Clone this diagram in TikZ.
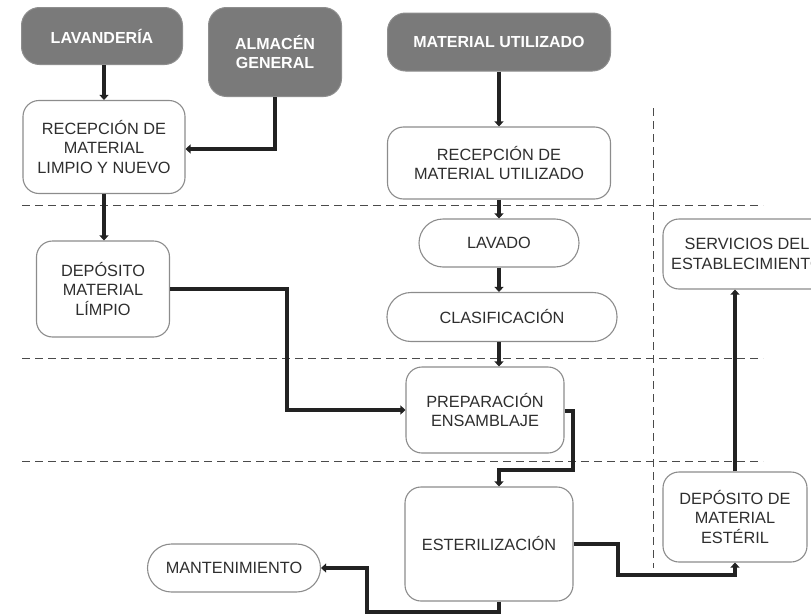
\documentclass[tikz,border=0pt]{standalone}
\usepackage{fontspec}
\setmainfont{Liberation Sans}
\usetikzlibrary{arrows.meta,calc}
\definecolor{darkbox}{HTML}{7A7A7A}
\definecolor{boxline}{HTML}{8C8C8C}
\definecolor{flow}{HTML}{222222}
\definecolor{txt}{HTML}{2E2E2E}
\definecolor{guide}{HTML}{4A4A4A}
\begin{document}
\begin{tikzpicture}[x=1pt,y=-1pt,
  every node/.style={font=\fontsize{16.3}{19.8}\selectfont, align=center, inner sep=0pt},
  source/.style={fill=darkbox, draw=darkbox!85, line width=1pt, rounded corners=18pt,
    text=white, font=\fontsize{16}{19.5}\selectfont\bfseries},
  stage/.style={draw=boxline, line width=1.1pt, fill=white, rounded corners=16pt, text=txt},
  pill/.style={stage, rounded corners=24pt},
  flowarrow/.style={draw=flow, line width=4pt, -{Triangle[width=9pt,length=5pt]}},
  lane/.style={draw=guide, line width=0.9pt, dash pattern=on 8pt off 5pt}]

\useasboundingbox (0,0) rectangle (811,613);
\clip (0,0) rectangle (811,613);

% swim-lane separators
\draw[lane] (22,205) -- (763,205);
\draw[lane] (22,358) -- (763,358);
\draw[lane] (22,461) -- (763,461);
\draw[lane] (653,108) -- (653,568);

% sources
\node[source, minimum width=161, minimum height=57] (lav0) at (102,36) {LAVANDERÍA};
\node[source, minimum width=133, minimum height=89] (alm) at (275,52) {ALMACÉN\\GENERAL};
\node[source, minimum width=223, minimum height=58] (mat) at (499,42) {MATERIAL UTILIZADO};

% process stages
\node[stage, minimum width=162, minimum height=93] (rec1) at (104,147) {RECEPCIÓN DE\\MATERIAL\\LIMPIO Y NUEVO};
\node[stage, minimum width=223, minimum height=72] (rec2) at (499,163) {RECEPCIÓN DE\\MATERIAL UTILIZADO};
\node[stage, minimum width=133, minimum height=96] (dep) at (103,289) {DEPÓSITO\\MATERIAL\\LÍMPIO};
\node[pill, minimum width=160, minimum height=48] (lavado) at (499,243) {LAVADO};
\node[pill, minimum width=230, minimum height=49] (clas) at (502,317) {CLASIFICACIÓN};
\node[stage, minimum width=168, minimum height=70] (serv) at (747,254) {SERVICIOS DEL\\ESTABLECIMIENTO};
\node[stage, minimum width=158, minimum height=86] (prep) at (485,410) {PREPARACIÓN\\ENSAMBLAJE};
\node[stage, minimum width=168, minimum height=114] (est) at (489,544) {ESTERILIZACIÓN};
\node[pill, minimum width=173, minimum height=48] (mant) at (234,568) {MANTENIMIENTO};
\node[stage, minimum width=144, minimum height=90] (dest) at (735,517) {DEPÓSITO DE\\MATERIAL\\ESTÉRIL};

% flows
\draw[flowarrow] (lav0.south -| rec1.north) -- (rec1.north);
\draw[flowarrow] (alm.south) |- ([yshift=-2pt]rec1.east);
\draw[flowarrow] (mat.south) -- (rec2.north);
\draw[flowarrow] (rec1.south) -- (dep.north -| rec1.south);
\draw[flowarrow] (rec2.south) -- (lavado.north);
\draw[flowarrow] (lavado.south) -- (lavado.south |- clas.north);
\draw[flowarrow] (clas.south -| lavado.south) -- (prep.north -| lavado.south);
\draw[flowarrow] (dep.east) -- ++(117,0) |- (prep.west);
\draw[flowarrow] ([yshift=-1pt]prep.east) -- ++(8,0) -- ++(0,59) -| ([xshift=10pt]est.north);
\draw[flowarrow] (est.east) -- ++(44,0) -- ++(0,31) -| (dest.south);
\draw[flowarrow] ([xshift=10pt]est.south) -- ++(0,10) -| ([xshift=46pt]mant.east) -- (mant.east);
\draw[flowarrow] (dest.north) -- (dest.north |- serv.south);
\end{tikzpicture}
\end{document}
